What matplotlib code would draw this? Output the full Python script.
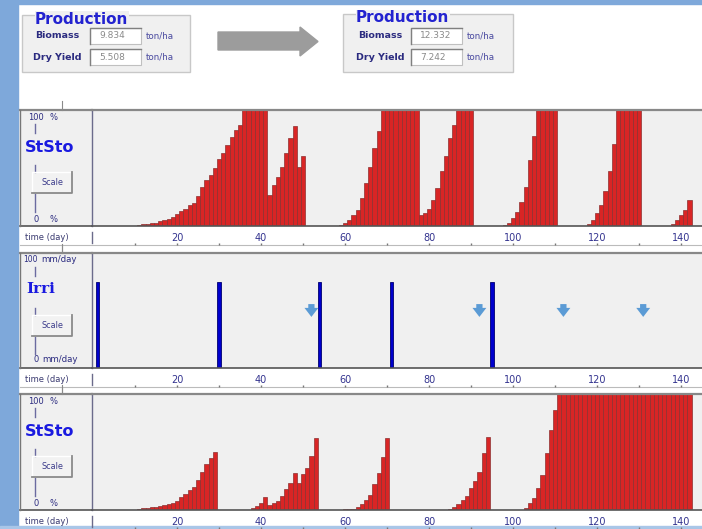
import matplotlib
matplotlib.use("Agg")
import matplotlib.pyplot as plt
from matplotlib.patches import Rectangle, Polygon

# ---- data ----
tick_days = [20, 40, 60, 80, 100, 120, 140]
minor_days = [10, 20, 30, 40, 50, 60, 70, 80, 90, 100, 110, 120, 130, 140]

# stress on stomata (%), first run
top_days = (list(range(11, 51)) + list(range(59, 91)) + list(range(98, 111))
            + list(range(118, 131)) + list(range(138, 143)))
top_vals = ([1, 1.5, 2, 2.5, 3, 4, 5, 6, 8, 10, 13, 15, 18, 20, 26, 34, 40, 44, 50, 58,
             63, 70, 77, 83, 87, 100, 100, 100, 100, 100, 100, 27, 35, 42, 51, 63, 76, 86, 51, 60]
            + [1, 3, 5, 9.5, 14, 24, 37, 51, 67, 82] + [100] * 9
            + [9.5, 11, 15, 22, 33, 47, 60, 76, 87, 100, 100, 100, 100]
            + [1, 3, 7, 12, 21, 34, 57, 78, 100, 100, 100, 100, 100]
            + [2, 5, 11, 18, 30, 47, 71, 100, 100, 100, 100, 100, 100]
            + [2, 5, 9.5, 14, 22])

# irrigation events (mm/day) and advice arrows
irri_days = [1, 30, 54, 71, 95]
irri_mm = [75, 75, 75, 75, 75]
arrow_days = [52, 92, 112, 131]

# stress on stomata (%), second run
bot_days = (list(range(11, 30)) + list(range(38, 54)) + list(range(60, 71))
            + list(range(85, 95)) + list(range(103, 143)))
bot_vals = ([1, 1.5, 2, 2.5, 3, 3.5, 4.5, 5, 6, 8, 11, 14, 17, 20, 26, 33, 40, 45, 50]
            + [1.5, 3.5, 6, 11.5, 4.5, 6, 8, 12, 18, 23, 32, 23, 31, 36, 46.5, 62]
            + [0.5, 0.5, 1, 3, 5, 8.5, 13, 22, 32, 46, 62]
            + [1, 3, 5.5, 9, 12.5, 19, 25, 33, 49, 63]
            + [2, 6, 10.5, 19, 30.5, 49, 69, 86] + [100] * 32)

prod_before = ["9.834", "5.508"]
prod_after = ["12.332", "7.242"]

# ---- layout (pixels) ----
W, H = 702, 529
NAVY = "#2B2B80"
BLUE = "#2222D0"
PANEL = "#F0F0F0"


def frac(x0, y0, x1, y1):
    return [x0 / W, 1 - y1 / H, (x1 - x0) / W, (y1 - y0) / H]


fig = plt.figure(figsize=(7.02, 5.29), dpi=100)
fig.patch.set_facecolor("white")
bg = fig.add_axes([0, 0, 1, 1])
bg.set_xlim(0, W)
bg.set_ylim(H, 0)
bg.axis("off")

# window frame
bg.add_patch(Rectangle((0, 0), 18, H, color="#7EA8DA"))
bg.add_patch(Rectangle((0, 0), W, 4, color="#7EA8DA"))
bg.add_patch(Rectangle((0, 526), W, 3, color="#A9C6E8"))


def prod_box(x0, x1, y0, values, lab_x, ent_x):
    bg.add_patch(Rectangle((x0, y0), x1 - x0, 72 - y0, facecolor=PANEL,
                           edgecolor="#C8C8C8", lw=1))
    bg.text(x0 + 13, y0 + 8.5, "Production", fontsize=11, fontweight="bold",
            color=BLUE, va="baseline",
            bbox=dict(facecolor=PANEL, edgecolor="none", pad=0.3))
    for i, (lab, val) in enumerate(zip(["Biomass", "Dry Yield"], values)):
        ey = 28 + i * 21
        bg.text(lab_x[i], ey + 8, lab, fontsize=6.8, fontweight="bold",
                color=NAVY, va="center")
        bg.add_patch(Rectangle((ent_x, ey), 51, 16, facecolor="white",
                               edgecolor="#C0C0C0", lw=0.8))
        bg.plot([ent_x, ent_x, ent_x + 51], [ey + 16, ey, ey], color="#808080", lw=1)
        bg.text(ent_x + 9, ey + 8, val, fontsize=6.5, color="#8A8A8A", va="center")
        bg.text(ent_x + 56, ey + 8, "ton/ha", fontsize=6.3, color="#4A4AA0",
                va="center")


prod_box(22, 190, 15, prod_before, [35, 33], 90)
prod_box(343, 513, 14, prod_after, [358, 356], 411)

bg.add_patch(Polygon([(218, 32), (300, 32), (300, 27), (318, 41.5), (300, 56),
                      (300, 50), (218, 50)], closed=True, color="#9C9C9C"))


def panel_frame(top, bot, title, unit, serif=False):
    bg.add_patch(Rectangle((20, top), W - 20, bot - top, facecolor=PANEL,
                           edgecolor="none"))
    bg.plot([20, 92], [top, top], color="#888888", lw=1.6)
    bg.plot([20, 92], [bot, bot], color="#555555", lw=1.2)
    bg.plot([20, 20], [top, bot], color="#777777", lw=1)
    bg.plot([92, 92], [bot + 6, bot + 17], color="#6B6B8B", lw=1)
    bg.plot([62, 62], [top - 9, top], color="#8A8A8A", lw=0.8)
    bg.plot([62, 62], [bot + 19, bot + 25], color="#8A8A8A", lw=0.8)
    # time row
    bg.text(25, bot + 12, "time (day)", fontsize=6, color="#3A3A70", va="center")
    bg.plot([20, W], [bot + 19, bot + 19], color="#BBBBBB", lw=0.8)
    # left label column
    if unit == "%":
        bg.text(28, top + 7, "100", fontsize=6, color=NAVY, va="center")
        bg.text(50, top + 7, "%", fontsize=6, color=NAVY, va="center")
        bg.text(33, bot - 7, "0", fontsize=6, color=NAVY, va="center")
        bg.text(50, bot - 7, "%", fontsize=6, color=NAVY, va="center")
    else:
        bg.text(23, top + 6, "100", fontsize=5.5, color=NAVY, va="center")
        bg.text(41, top + 6, unit, fontsize=6.2, color=NAVY, va="center")
        bg.text(33, bot - 8, "0", fontsize=6, color=NAVY, va="center")
        bg.text(42, bot - 8, unit, fontsize=6.2, color=NAVY, va="center")
    bg.plot([35, 35], [top + 14, top + 23], color="#6B6BA0", lw=1)
    bg.plot([35, 35], [top + 55, top + 62], color="#6B6BA0", lw=1)
    bg.plot([35, 35], [top + 84, bot - 14], color="#6B6BA0", lw=1)
    if serif:
        bg.text(26, top + 36, title, fontsize=11, fontweight="bold", color="#1A1AE0",
                va="center", family="DejaVu Serif")
    else:
        bg.text(25, top + 37, title, fontsize=11.5, fontweight="bold", color="#1A1AE0",
                va="center")
    bx, by = 32, top + 62
    bg.add_patch(Rectangle((bx, by), 40, 21, facecolor="#F2F2F2", edgecolor="none"))
    bg.plot([bx, bx, bx + 40], [by + 21, by, by], color="white", lw=1)
    bg.plot([bx, bx + 40, bx + 40], [by + 21, by + 21, by], color="#8A8A8A", lw=1.3)
    bg.text(bx + 20, by + 10.5, "Scale", fontsize=5.8, color="#3A3A8A",
            ha="center", va="center")


def data_axes(top, bot):
    ax = fig.add_axes(frac(92, top, W, bot))
    ax.set_facecolor("none")
    ax.set_xlim(-0.24, 145.0)
    ax.set_ylim(0, 100)
    ax.spines["right"].set_visible(False)
    ax.spines["top"].set_color("#888888")
    ax.spines["top"].set_linewidth(1.6)
    ax.spines["bottom"].set_color("#555555")
    ax.spines["bottom"].set_linewidth(1.2)
    ax.spines["left"].set_color("#6B6B8B")
    ax.spines["left"].set_linewidth(1)
    ax.set_yticks([])
    ax.set_xticks(tick_days)
    ax.set_xticklabels([str(d) for d in tick_days])
    ax.tick_params(axis="x", length=0, pad=5, labelsize=7, labelcolor="#33338F")
    ax.plot(minor_days, [-18 / (bot - top)] * len(minor_days), linestyle="none",
            marker="|", markersize=2, color="#777777",
            transform=ax.get_xaxis_transform(), clip_on=False)
    return ax


panels = [(110, 226), (253, 368), (394, 510)]

panel_frame(*panels[0], "StSto", "%")
ax1 = data_axes(*panels[0])
ax1.bar(top_days, top_vals, width=1.0, color="#D92525", edgecolor="#8B3030", lw=0.5)

panel_frame(*panels[1], "Irri", "mm/day", serif=True)
ax2 = data_axes(*panels[1])
ax2.bar(irri_days, irri_mm, width=0.75, color="#0000CD", edgecolor="#000070", lw=0.6)
for d in arrow_days:
    ax2.annotate("", xy=(d, 42), xytext=(d, 58),
                 arrowprops=dict(arrowstyle="simple,head_width=1.0,head_length=0.65,tail_width=0.45",
                                 color="#5B9BD5", lw=0))

panel_frame(*panels[2], "StSto", "%")
ax3 = data_axes(*panels[2])
ax3.bar(bot_days, bot_vals, width=1.0, color="#D92525", edgecolor="#8B3030", lw=0.5)

fig.savefig("out.png", dpi=100)
